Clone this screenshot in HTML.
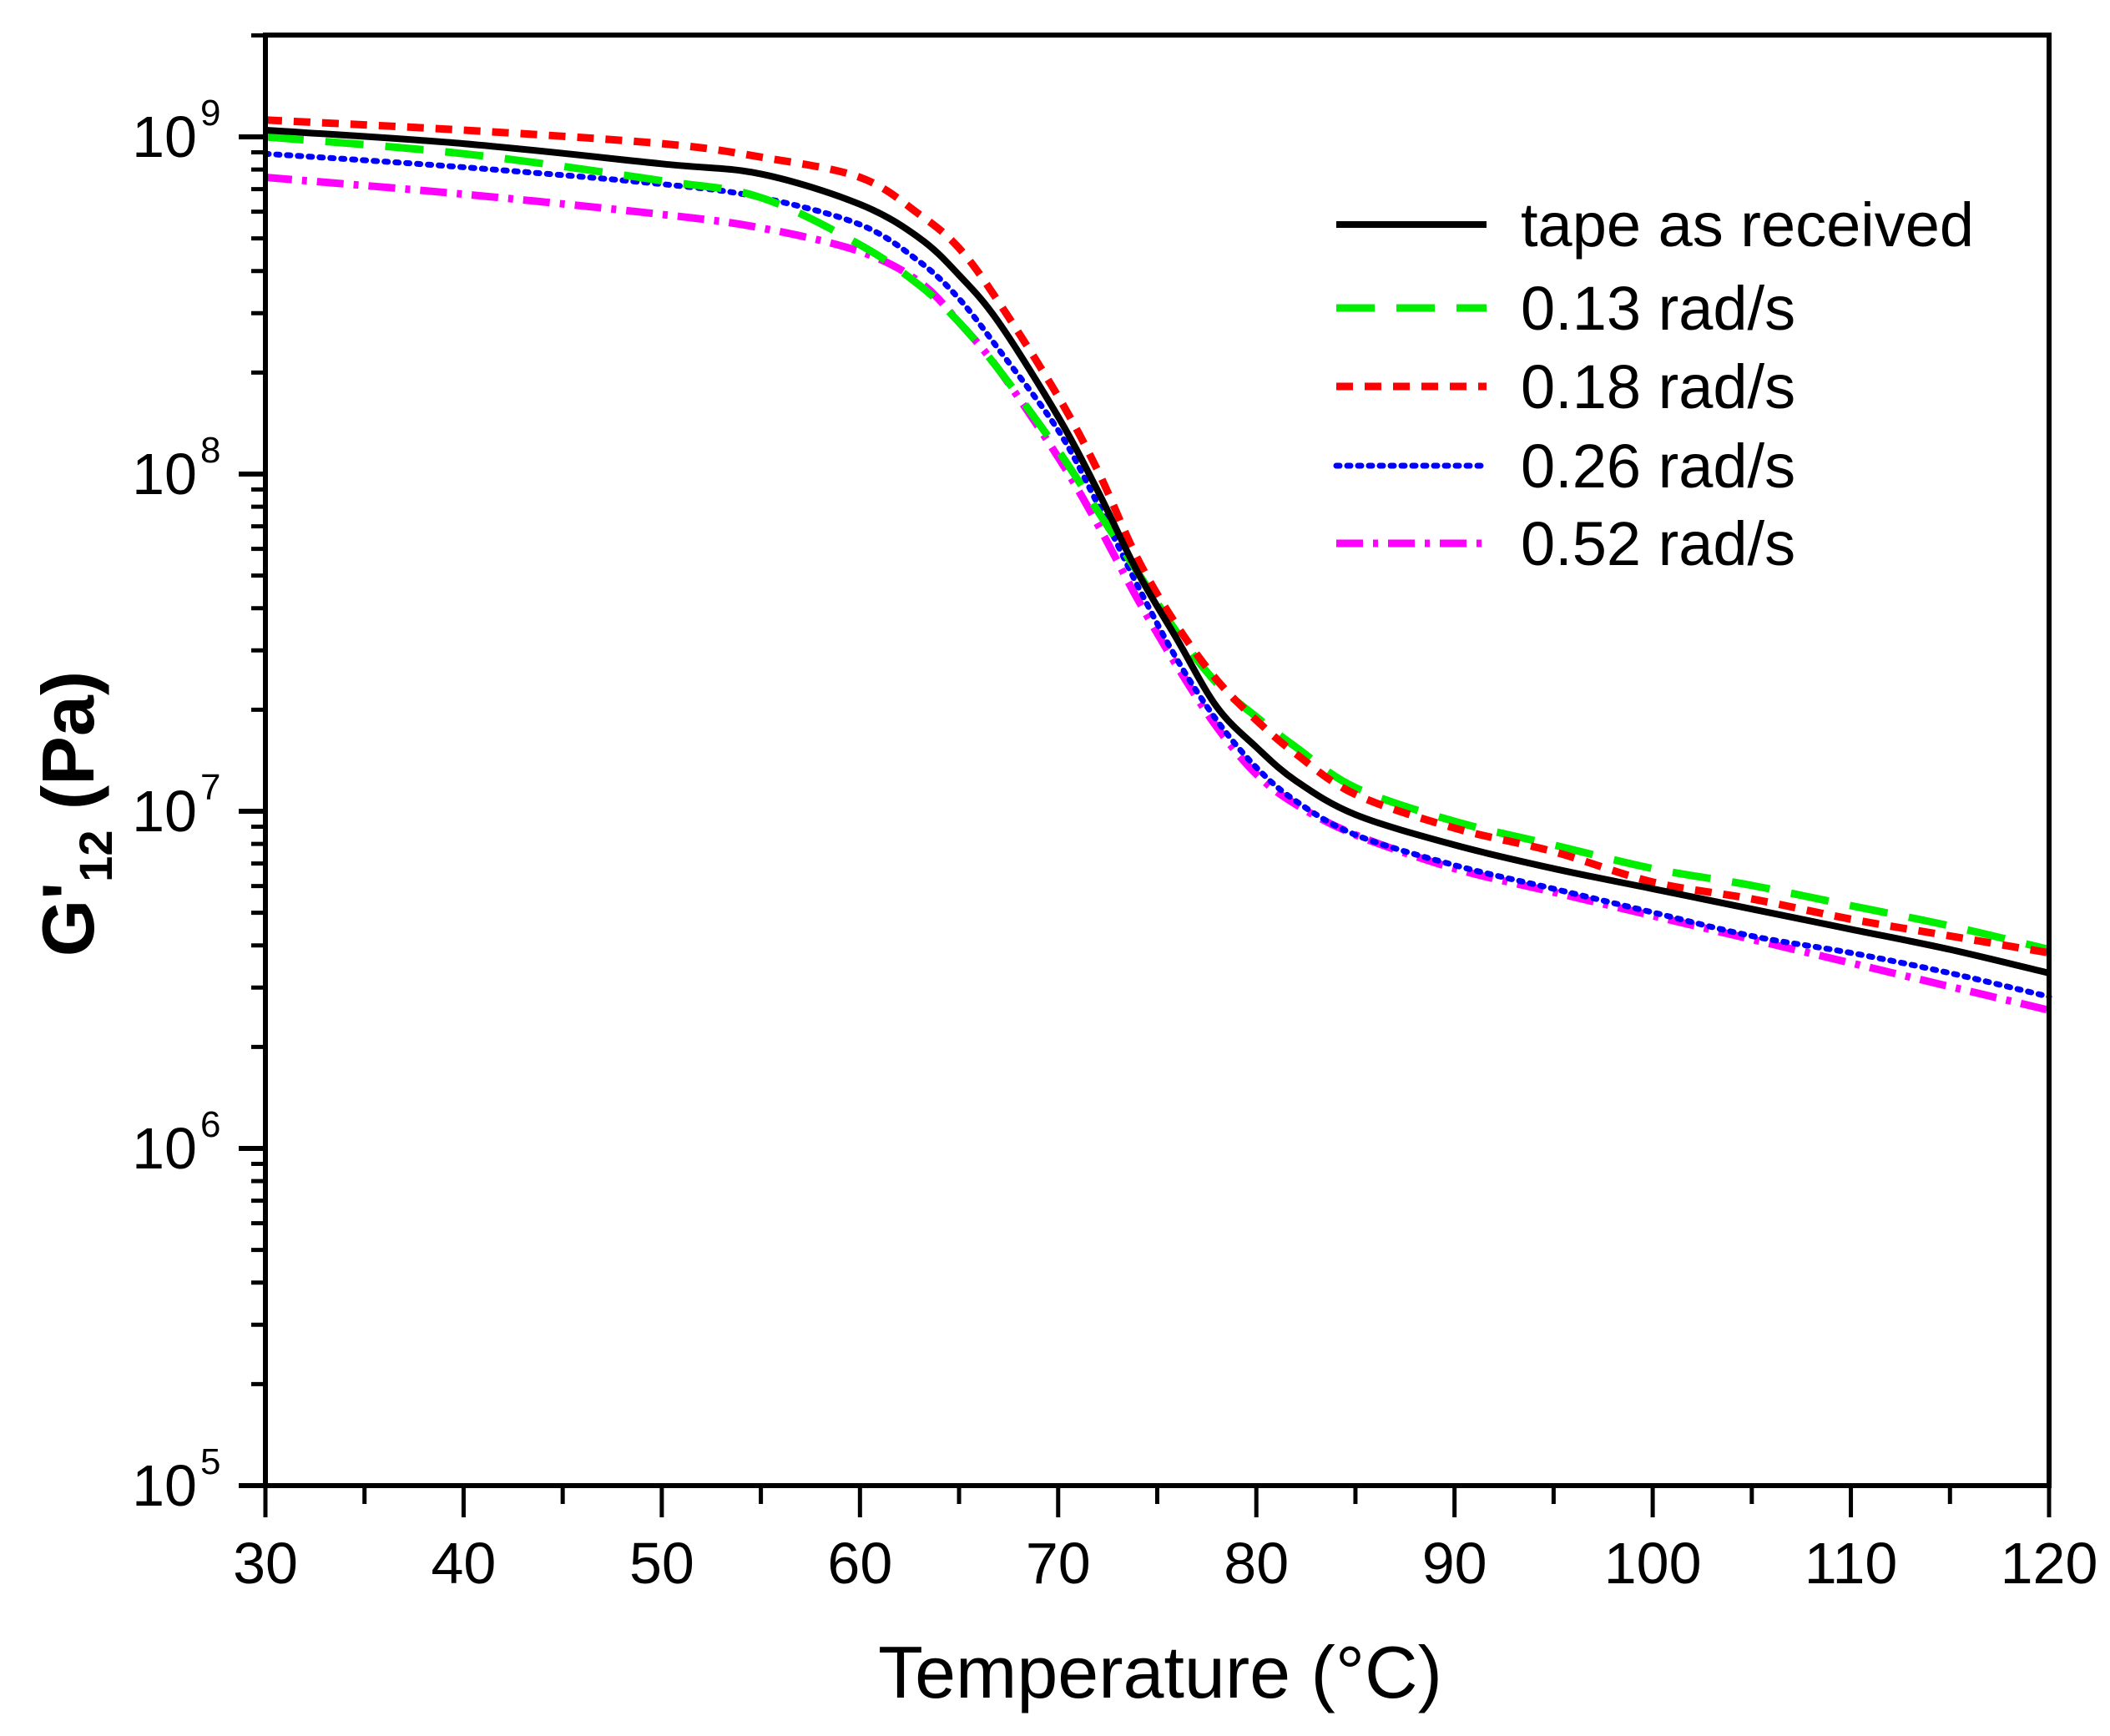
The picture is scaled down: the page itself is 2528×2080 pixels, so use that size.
<!DOCTYPE html>
<html><head><meta charset="utf-8">
<style>
html,body{margin:0;padding:0;background:#fff;}
svg{display:block;}
text{font-family:"Liberation Sans",Arial,sans-serif;fill:#000;}
</style></head>
<body>
<svg id="chart" width="2528" height="2080" viewBox="0 0 2528 2080" xmlns="http://www.w3.org/2000/svg">
<g id="plot"></g>
<g id="axes"></g>
<g id="legend"></g>
<text x="1390" y="2034" font-size="88" text-anchor="middle">Temperature (°C)</text>
<text transform="translate(112,975) rotate(-90)" font-size="88" font-weight="bold" text-anchor="middle">G'<tspan font-size="56" dy="22">12</tspan><tspan dy="-22"> (Pa)</tspan></text>
</svg>
<script>
const temps = [30,40,50,55,60,63,65,67,70,72,74,76,78,80,82,85,90,95,100,105,110,115,120];
const logTape = [9.02,8.98,8.92,8.89,8.80,8.70,8.59,8.45,8.17,7.95,7.71,7.51,7.31,7.19,7.09,6.99,6.90,6.83,6.77,6.71,6.65,6.59,6.52];
const log013 = [9.00,8.95,8.87,8.82,8.68,8.56,8.45,8.31,8.07,7.89,7.71,7.53,7.38,7.28,7.19,7.07,6.97,6.90,6.83,6.78,6.72,6.66,6.59];
const log018 = [9.05,9.02,8.98,8.94,8.88,8.77,8.67,8.51,8.23,8.01,7.75,7.55,7.39,7.27,7.17,7.05,6.95,6.88,6.79,6.74,6.68,6.63,6.58];
const log026 = [8.95,8.91,8.86,8.82,8.74,8.63,8.52,8.37,8.13,7.91,7.67,7.45,7.27,7.13,7.03,6.93,6.84,6.77,6.70,6.63,6.58,6.52,6.45];
const log052 = [8.88,8.83,8.77,8.73,8.66,8.57,8.45,8.31,8.05,7.85,7.63,7.43,7.25,7.11,7.02,6.93,6.83,6.76,6.69,6.62,6.55,6.48,6.41];
const xTicks = [30,40,50,60,70,80,90,100,110,120];
const yDecades = [5,6,7,8,9];
const seriesNames = ["tape as received","0.13 rad/s","0.18 rad/s","0.26 rad/s","0.52 rad/s"];

const NS="http://www.w3.org/2000/svg";
const L=318,R=2455,B=1780,T=42;
const xMin=30,xMax=120,yMin=5,yMax=9+(164-42)/404;
const xs=t=>L+(t-xMin)/(xMax-xMin)*(R-L);
const ys=lg=>B-(lg-yMin)/(yMax-yMin)*(B-T);
function mk(tag,attrs,parent){const e=document.createElementNS(NS,tag);for(const k in attrs)e.setAttribute(k,attrs[k]);parent.appendChild(e);return e;}
const plot=document.getElementById('plot'),axes=document.getElementById('axes'),legend=document.getElementById('legend');

function smoothPath(px,py){
  let d=`M${px[0]},${py[0]}`;
  for(let i=0;i<px.length-1;i++){
    const x0=px[Math.max(i-1,0)],y0=py[Math.max(i-1,0)],x1=px[i],y1=py[i],x2=px[i+1],y2=py[i+1],x3=px[Math.min(i+2,px.length-1)],y3=py[Math.min(i+2,px.length-1)];
    const c1x=x1+(x2-x0)/6,c1y=y1+(y2-y0)/6,c2x=x2-(x3-x1)/6,c2y=y2-(y3-y1)/6;
    d+=` C${c1x},${c1y} ${c2x},${c2y} ${x2},${y2}`;
  }
  return d;
}
const styles=[
  {c:"#000000",dash:"",w:8},
  {c:"#00ee00",dash:"46 26",w:9},
  {c:"#ff0000",dash:"20 14",w:9},
  {c:"#0000ff",dash:"4 9",w:7},
  {c:"#ff00ff",dash:"32 12 6 12",w:9}
];
const data=[logTape,log013,log018,log026,log052];
const names=['line-tape-as-received','line-0-13-rad-s','line-0-18-rad-s','line-0-26-rad-s','line-0-52-rad-s'];
const order=[4,3,1,2,0];
order.forEach(i=>{
  const p=mk('path',{d:smoothPath(temps.map(xs),data[i].map(ys)),fill:'none',stroke:styles[i].c,'stroke-width':styles[i].w,'stroke-dasharray':styles[i].dash,'stroke-linecap':i==3?'round':'butt'},plot);
  
  
});

const fr=mk('rect',{x:L,y:T,width:R-L,height:B-T,fill:'none',stroke:'#000','stroke-width':6},axes);


for(let t=30;t<=120;t+=5){
  const major=t%10===0;
  const tk=mk('line',{x1:xs(t),x2:xs(t),y1:B,y2:B+(major?38:22),stroke:'#000','stroke-width':5},axes);
  
  
}
xTicks.forEach(t=>{
  const tx=mk('text',{x:xs(t),y:1897,'font-size':70,'text-anchor':'middle'},axes);
  tx.textContent=t;
  
  
});
yDecades.forEach(d=>{
  const mj=mk('line',{x1:L-32,x2:L,y1:ys(d),y2:ys(d),stroke:'#000','stroke-width':6},axes);
  
  
  for(let m=2;m<=9;m++){
    const lg=d+Math.log10(m);
    if(lg>yMax)break;
    const mn=mk('line',{x1:L-17,x2:L,y1:ys(lg),y2:ys(lg),stroke:'#000','stroke-width':5},axes);
    
    
  }
  const tx=mk('text',{x:236,y:ys(d)+24,'font-size':70,'text-anchor':'end'},axes);
  tx.textContent='10';
  
  
  const sp=mk('text',{x:240,y:ys(d)-14,'font-size':44},axes);
  sp.textContent=d;
  
  
});
const legY=[269,369,463,558,651];
seriesNames.forEach((n,i)=>{
  const ln=mk('line',{x1:1601,x2:1781,y1:legY[i],y2:legY[i],stroke:styles[i].c,'stroke-width':styles[i].w,'stroke-dasharray':styles[i].dash,'stroke-linecap':i==3?'round':'butt'},legend);
  
  
  const tx=mk('text',{x:1822,y:legY[i]+26,'font-size':74},legend);
  tx.textContent=n;
  
  
});
</script>
</body></html>
